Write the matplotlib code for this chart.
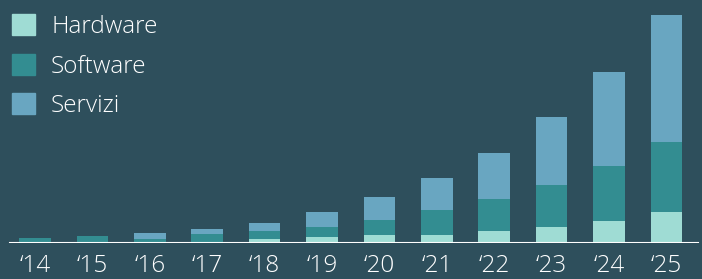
import matplotlib.pyplot as plt
from matplotlib.patches import Patch

years = ['‘14', '‘15', '‘16', '‘17', '‘18', '‘19', '‘20', '‘21', '‘22', '‘23', '‘24', '‘25']
hardware = [0, 0, 0, 0, 4, 6, 8, 8, 12, 15.7, 21.7, 31.3]
software = [4.7, 7, 4.5, 9, 8, 10, 15, 25, 32, 42, 55.3, 69.7]
servizi = [0, 0, 5.5, 5, 8, 15, 22.7, 32, 46.3, 68.6, 93.7, 127]

bg = '#2e4f5c'
c_hw = '#9fdcd4'
c_sw = '#338d91'
c_sv = '#69a6c1'

plt.rcParams['font.family'] = ['Open Sans', 'DejaVu Sans']

fig = plt.figure(figsize=(7.02, 2.79), dpi=100, facecolor=bg)
ax = fig.add_axes([0, 36 / 279, 1, 243 / 279])
ax.set_facecolor(bg)

x = list(range(len(years)))
bottom2 = [h + s for h, s in zip(hardware, software)]
ax.bar(x, hardware, width=0.55, color=c_hw)
ax.bar(x, software, width=0.55, bottom=hardware, color=c_sw)
ax.bar(x, servizi, width=0.55, bottom=bottom2, color=c_sv)

ax.axhline(0, xmin=10 / 702, xmax=698 / 702, color='white', linewidth=1.5)

ax.set_xlim(-0.61, 11.62)
ax.set_ylim(0, 243)
ax.set_xticks(x)
ax.set_xticklabels(years, color='white', fontsize=17.5, fontweight='light')
ax.tick_params(axis='x', length=0, pad=8)
ax.set_yticks([])
for s in ax.spines.values():
    s.set_visible(False)

handles = [Patch(color=c_hw, label='Hardware'),
           Patch(color=c_sw, label='Software'),
           Patch(color=c_sv, label='Servizi')]
leg = fig.legend(handles=handles, loc='upper left', bbox_to_anchor=(0.0, 0.992),
                 frameon=False, fontsize=17.5, handlelength=0.95, handleheight=0.95,
                 labelspacing=0.6, handletextpad=0.65, borderaxespad=0.2,
                 borderpad=0.3)
for t in leg.get_texts():
    t.set_color('white')
    t.set_fontweight('light')

fig.savefig('out.png', dpi=100, facecolor=bg)
